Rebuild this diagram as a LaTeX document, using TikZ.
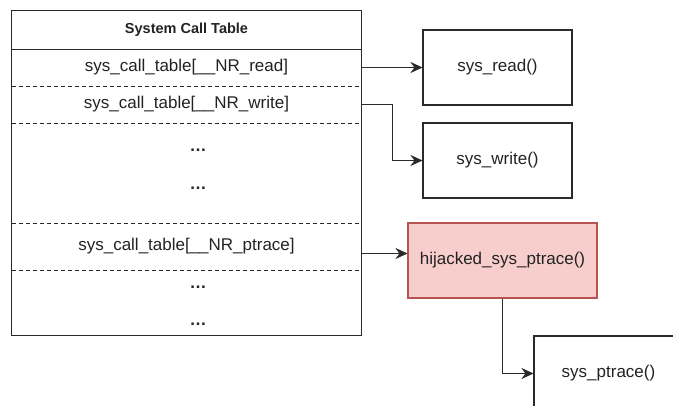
\documentclass[tikz,border=0pt]{standalone}
\usepackage{fontspec}
\setmainfont{Liberation Sans}
\usetikzlibrary{arrows.meta,calc}

\definecolor{txt}{HTML}{222222}
\definecolor{linecol}{HTML}{2A2A2A}
\definecolor{hjfill}{HTML}{F8CECC}
\definecolor{hjline}{HTML}{B85450}

\tikzset{
  every node/.style={text=txt, font=\fontsize{17}{19}\selectfont},
  row/.style={minimum width=349pt, inner sep=0pt, anchor=center},
  dots/.style={font=\bfseries\fontsize{17}{19}\selectfont, inner sep=0pt},
  fnbox/.style={draw=linecol, line width=1.1pt, minimum width=149pt, minimum height=75pt, inner sep=0pt},
  hjbox/.style={fnbox, draw=hjline, fill=hjfill, minimum width=189pt},
  sep/.style={draw=linecol, line width=1pt, dash pattern=on 4pt off 3pt},
  link/.style={draw=linecol, line width=1.1pt, ->,
    >={Stealth[length=12pt, width=11pt, inset=4pt, line width=0.5pt]}}
}

\begin{document}
\begin{tikzpicture}[x=1pt, y=1pt]
\useasboundingbox (0,0) rectangle (673,-406);

% table rows
\node[row, minimum height=38pt, font=\bfseries\fontsize{14.5}{16}\selectfont] (head) at (186.5,-30) {System Call Table};
\node[row, minimum height=37pt] (rread)   at (186.5,-67.5)  {sys\_call\_table[\_\_NR\_read]};
\node[row, minimum height=37pt] (rwrite)  at (186.5,-104.5) {sys\_call\_table[\_\_NR\_write]};
\node[row, minimum height=100pt] (rgap)   at (186.5,-173) {};
\node[dots] (dotsa) at (198,-150) {…};
\node[dots] (dotsb) at (198,-188) {…};
\node[row, minimum height=47pt] (rptrace) at (186.5,-246.5) {sys\_call\_table[\_\_NR\_ptrace]};
\node[row, minimum height=65pt] (rtail)   at (186.5,-302.5) {};
\node[dots] (dotsc) at (198,-287) {…};
\node[dots] (dotsd) at (198,-324) {…};

% table frame and row separators
\draw[draw=linecol, line width=1.1pt] (head.north west) rectangle (rtail.south east);
\draw[draw=linecol, line width=1.1pt] (head.south west) -- (head.south east);
\draw[sep] (rread.south west) -- (rread.south east);
\draw[sep] (rwrite.south west) -- (rwrite.south east);
\draw[sep] (rgap.south west) -- (rgap.south east);
\draw[sep] (rptrace.south west) -- (rptrace.south east);

% target functions
\node[fnbox] (fread)   at (497.5,-67.5)  {sys\_read()};
\node[fnbox] (fwrite)  at (497.5,-160.5) {sys\_write()};
\node[hjbox] (hijack)  at (502.5,-260.5) {hijacked\_sys\_ptrace()};
\node[fnbox] (fptrace) at (608.5,-373.5) {sys\_ptrace()};

% connectors
\draw[link] (rread.east) -- (fread.west);
\draw[link] (rwrite.east) -- ++(31,0) |- (fwrite.west);
\coordinate (pmid) at ($(rptrace.east)!.5!(hijack.west)$);
\draw[link] (rptrace.east |- pmid) -- (hijack.west |- pmid);
\draw[link] (hijack.south) |- (fptrace.west);
\end{tikzpicture}
\end{document}
